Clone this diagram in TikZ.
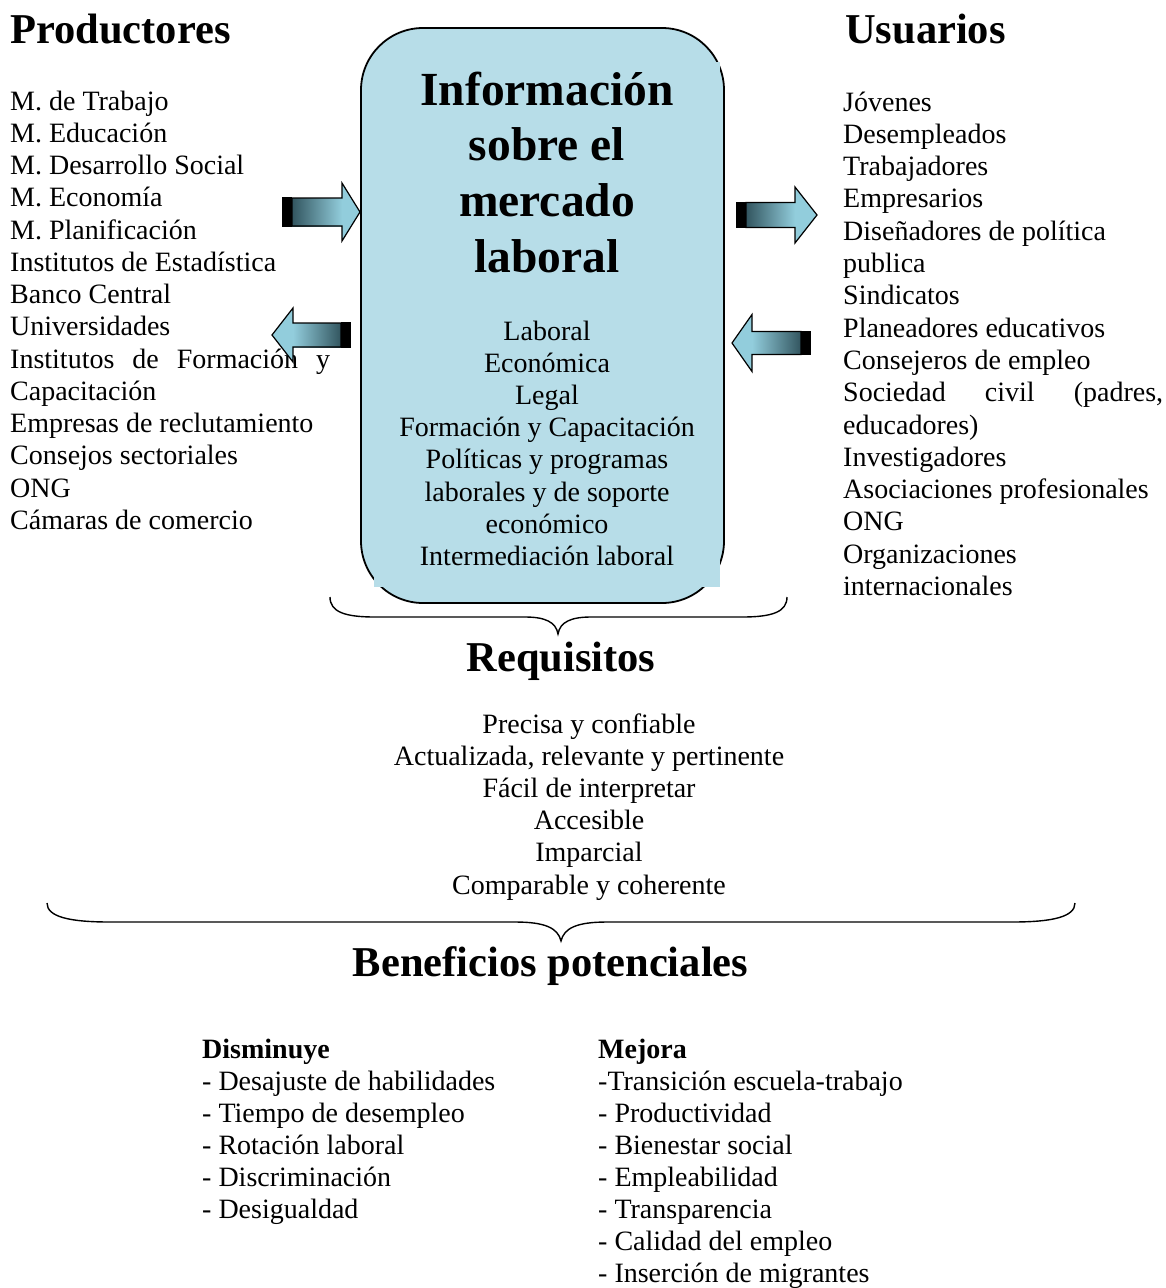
\documentclass[tikz,border=0pt]{standalone}
\usepackage{fontspec}
\setmainfont{Liberation Serif}
\definecolor{boxblue}{RGB}{183,221,232}
\definecolor{arrlight}{RGB}{146,205,220}
\definecolor{arrdark}{RGB}{50,85,95}
\newcommand{\rblk}[6]{% tail, headbase, tip, cy, half body, half head
  \fill[arrlight] (#2,#4-#6) -- (#3,#4) -- (#2,#4+#6) -- cycle;
  \shade[left color=arrdark,right color=arrlight] (#1+9,#4-#5) rectangle (#2,#4+#5);
  \draw[arrline] (#1+9,#4-#5) -- (#2,#4-#5) -- (#2,#4-#6) -- (#3,#4) -- (#2,#4+#6) -- (#2,#4+#5) -- (#1+9,#4+#5) -- cycle;
  \filldraw[arrline,fill=black] (#1,#4-#5) rectangle (#1+4,#4+#5);
  \filldraw[arrline,fill=arrdark!50!black] (#1+6,#4-#5) rectangle (#1+8,#4+#5);
}
\newcommand{\lblk}[6]{% tail, headbase, tip, cy, half body, half head
  \fill[arrlight] (#2,#4-#6) -- (#3,#4) -- (#2,#4+#6) -- cycle;
  \shade[left color=arrlight,right color=arrdark] (#2,#4-#5) rectangle (#1-9,#4+#5);
  \draw[arrline] (#1-9,#4-#5) -- (#2,#4-#5) -- (#2,#4-#6) -- (#3,#4) -- (#2,#4+#6) -- (#2,#4+#5) -- (#1-9,#4+#5) -- cycle;
  \filldraw[arrline,fill=black] (#1,#4-#5) rectangle (#1-4,#4+#5);
  \filldraw[arrline,fill=arrdark!50!black] (#1-6,#4-#5) rectangle (#1-8,#4+#5);
}
\begin{document}
\begin{tikzpicture}[x=1pt,y=-1pt,
  txt/.style={inner sep=0pt,anchor=base west,font=\fontsize{28}{32}\selectfont},
  ctxt/.style={inner sep=0pt,anchor=base,font=\fontsize{28}{32}\selectfont},
  btxt/.style={inner sep=0pt,anchor=base west,font=\fontsize{28}{32}\selectfont\bfseries},
  heading/.style={inner sep=0pt,anchor=base west,font=\fontsize{42.5}{48}\selectfont\bfseries},
  cheading/.style={inner sep=0pt,anchor=base,font=\fontsize{42.5}{48}\selectfont\bfseries},
  boxtitle/.style={inner sep=0pt,anchor=base,font=\fontsize{47.5}{56}\selectfont\bfseries},
  arrline/.style={draw=black,line width=1.2pt,line join=miter},
  bracel/.style={draw=black,line width=1.4pt}]
\useasboundingbox (0,0) rectangle (1166,1288);

% central box
\draw[line width=1.8pt,fill=boxblue,rounded corners=62pt] (361,28) rectangle (724,603);
\fill[boxblue] (374,62) rectangle (720,587);

\foreach \t [count=\i from 0] in {Información, sobre el, mercado, laboral}
  \node[boxtitle] (bt\i) at (547,{105+55.7*\i}) {\t};
\foreach \t [count=\i from 0] in {Laboral, Económica, Legal, Formación y Capacitación,
  Políticas y programas, laborales y de soporte, económico, Intermediación laboral}
  \node[ctxt] (bl\i) at (547,{340+32.2*\i}) {\t};

% producers
\node[heading] (prod) at (10,43) {Productores};
\foreach \t [count=\i from 0] in {M. de Trabajo, M. Educación, M. Desarrollo Social,
  M. Economía, M. Planificación, Institutos de Estadística, Banco Central, Universidades,
  {\makebox[320pt][s]{Institutos de Formación y}}, Capacitación, Empresas de reclutamiento,
  Consejos sectoriales, ONG, Cámaras de comercio}
  \node[txt] (p\i) at (10,{110+32.25*\i}) {\t};

% users
\node[heading] (usu) at (845,43) {Usuarios};
\foreach \t [count=\i from 0] in {Jóvenes, Desempleados, Trabajadores, Empresarios,
  Diseñadores de política, publica, Sindicatos, Planeadores educativos, Consejeros de empleo,
  {\makebox[320pt][s]{Sociedad civil (padres,}}, educadores), Investigadores,
  Asociaciones profesionales, ONG, Organizaciones, internacionales}
  \node[txt] (u\i) at (843,{111+32.3*\i}) {\t};

% arrows
\rblk{283}{342}{360}{212}{14}{29}
\lblk{350}{293}{272}{335}{12}{27}
\rblk{737}{795}{817}{215}{12.5}{28}
\lblk{810}{752}{732}{343}{11.5}{28.5}

% braces
\draw[bracel] (330,597) .. controls (330,612) and (345,617) .. (375,617) -- (525,617)
  .. controls (545,617) and (556,622) .. (558,634)
  .. controls (560,622) and (571,617) .. (591,617) -- (742,617)
  .. controls (772,617) and (787,612) .. (787,597);
\draw[bracel] (47,903) .. controls (47,917) and (70,922) .. (110,922) -- (515,922)
  .. controls (545,922) and (558,928) .. (561,941)
  .. controls (564,928) and (577,922) .. (607,922) -- (1012,922)
  .. controls (1052,922) and (1075,917) .. (1075,903);

% requisitos
\node[cheading] (req) at (561,671) {Requisitos};
\foreach \t [count=\i from 0] in {Precisa y confiable, {Actualizada, relevante y pertinente},
  Fácil de interpretar, Accesible, Imparcial, Comparable y coherente}
  \node[ctxt] (r\i) at (589,{733+32.2*\i}) {\t};

% beneficios
\node[cheading] (ben) at (550.5,976) {Beneficios potenciales};
\node[btxt] (dis) at (202,1058) {Disminuye};
\node[btxt] (mej) at (598,1058) {Mejora};
\foreach \t [count=\i from 0] in {- Desajuste de habilidades, - Tiempo de desempleo,
  - Rotación laboral, - Discriminación, - Desigualdad}
  \node[txt] (d\i) at (202,{1090+32.1*\i}) {\t};
\foreach \t [count=\i from 0] in {-Transición escuela-trabajo, - Productividad,
  - Bienestar social, - Empleabilidad, - Transparencia, - Calidad del empleo,
  - Inserción de migrantes}
  \node[txt] (m\i) at (598,{1090+32.1*\i}) {\t};
\end{tikzpicture}
\end{document}
